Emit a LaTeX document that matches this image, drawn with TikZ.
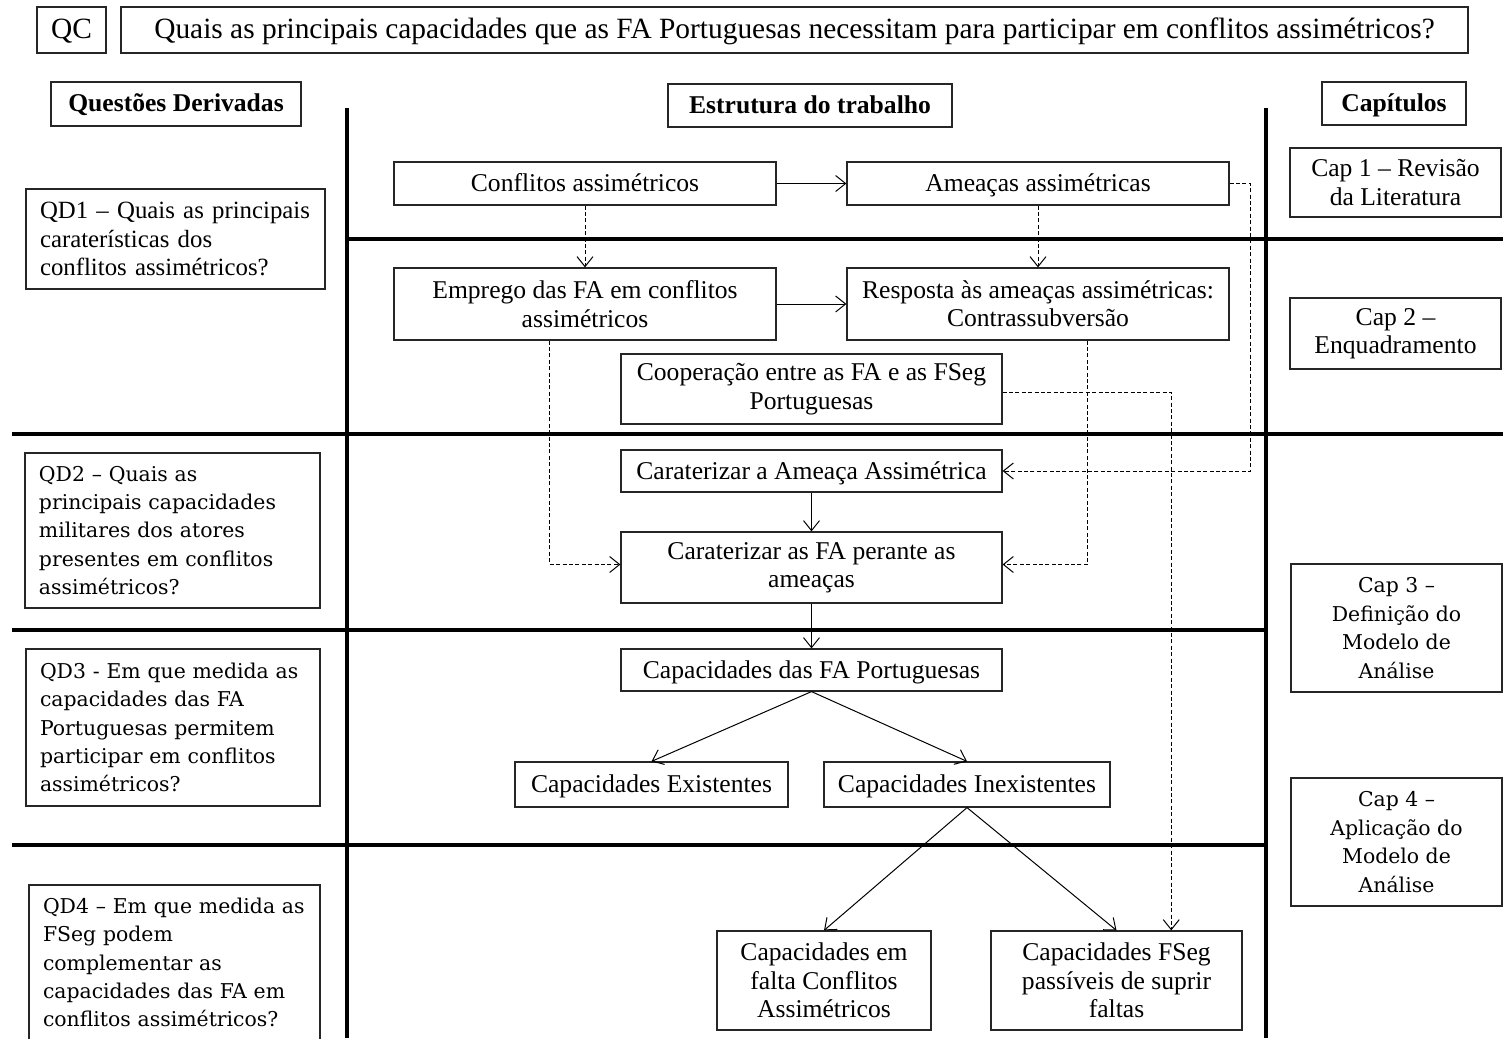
\documentclass[tikz,border=0pt]{standalone}
\usepackage{fontspec}
\setmainfont{Liberation Serif}
\newfontfamily\dvs{DejaVu Serif}
\usetikzlibrary{arrows.meta,calc}
\begin{document}
\begin{tikzpicture}[x=0.5pt,y=-0.5pt,
  bx/.style={draw=black!85,line width=0.6pt,rectangle,inner sep=0pt,align=center,
    font=\fontsize{12.8}{14.2}\selectfont},
  one/.style={text height=10pt,text depth=2pt},
  hd/.style={bx,one,font=\fontsize{12.8}{14.2}\selectfont\bfseries},
  big/.style={bx,font=\fontsize{14.7}{16}\selectfont,text height=11pt,text depth=2.5pt},
  qd/.style={draw=black!85,line width=0.6pt,rectangle,inner ysep=0pt,inner xsep=7pt,align=left,
    font=\dvs\fontsize{10.2}{14.2}\selectfont},
  qdt/.style={qd,font=\fontsize{12.4}{14.2}\selectfont},
  chapbox/.style={bx,font=\dvs\fontsize{10.2}{14.2}\selectfont},
  sep/.style={line width=2pt,black},
  arr/.style={line width=0.5pt,-{Straight Barb[length=5pt,width=8pt]}},
  darr/.style={arr,dash pattern=on 2pt off 1.2pt}]
\useasboundingbox (0,0) rectangle (1503,1038);
% separators
\draw[sep] (347,108) -- (347,1038);
\draw[sep] (1266,108) -- (1266,1038);
\draw[sep] (347,239) -- (1503,239);
\draw[sep] (12,434) -- (1503,434);
\draw[sep] (12,630) -- (1266,630);
\draw[sep] (12,845) -- (1266,845);
% header
\node[big,minimum width=34.5pt,minimum height=23pt] (qc) at (71.5,30) {QC};
\node[big,minimum width=673.5pt,minimum height=23pt] (qmain) at (794.5,30) {Quais as principais capacidades que as FA Portuguesas necessitam para participar em conflitos assimétricos?};
\node[hd,minimum width=125pt,minimum height=22pt] (hqd) at (176,104) {Questões Derivadas};
\node[hd,minimum width=142pt,minimum height=21.5pt] (hest) at (810,105.5) {Estrutura do trabalho};
\node[hd,minimum width=72pt,minimum height=21.5pt] (hcap) at (1394,103.5) {Capítulos};
% QD boxes
\node[qdt,text width=135.5pt,minimum height=50pt] (qd1) at (175.5,239) {QD1 – Quais as principais\\caraterísticas dos\\conflitos assimétricos?};
\node[qd,text width=133.5pt,minimum height=77.5pt] (qd2) at (172.5,530.5) {QD2 – Quais as\\principais capacidades\\militares dos atores\\presentes em conflitos\\assimétricos?};
\node[qd,text width=133pt,minimum height=78.5pt] (qd3) at (173,727.5) {QD3 - Em que medida as\\capacidades das FA\\Portuguesas permitem\\participar em conflitos\\assimétricos?};
\node[qd,text width=131.5pt,minimum height=77.5pt] (qd4) at (174.5,962.5) {QD4 – Em que medida as\\FSeg podem\\complementar as\\capacidades das FA em\\conflitos assimétricos?};
% chapter boxes
\node[bx,minimum width=105.5pt,minimum height=34.5pt] (cap1) at (1395.5,182.5) {Cap 1 – Revisão\\da Literatura};
\node[bx,minimum width=105.5pt,minimum height=35.5pt] (cap2) at (1395.5,333.5) {Cap 2 –\\Enquadramento};
\node[chapbox,minimum width=105.5pt,minimum height=64pt] (cap3) at (1396.5,628) {Cap 3 –\\Definição do\\Modelo de\\Análise};
\node[chapbox,minimum width=105.5pt,minimum height=64pt] (cap4) at (1396.5,842) {Cap 4 –\\Aplicação do\\Modelo de\\Análise};
% structure boxes
\node[bx,one,minimum width=191pt,minimum height=21.5pt] (conf) at (585,183.5) {Conflitos assimétricos};
\node[bx,one,minimum width=191pt,minimum height=21.5pt] (amea) at (1038,183.5) {Ameaças assimétricas};
\node[bx,minimum width=191pt,minimum height=36pt] (emp) at (585,304) {Emprego das FA em conflitos\\assimétricos};
\node[bx,minimum width=191pt,minimum height=36pt] (resp) at (1038,304) {Resposta às ameaças assimétricas:\\Contrassubversão};
\node[bx,minimum width=190.5pt,minimum height=35pt] (coop) at (811.5,389) {Cooperação entre as FA e as FSeg\\Portuguesas};
\node[bx,one,minimum width=190.5pt,minimum height=21pt] (carA) at (811.5,471) {Caraterizar a Ameaça Assimétrica};
\node[bx,minimum width=190.5pt,minimum height=35.5pt] (carF) at (811.5,567.5) {Caraterizar as FA perante as\\ameaças};
\node[bx,one,minimum width=190.5pt,minimum height=21pt] (capFA) at (811.5,670) {Capacidades das FA Portuguesas};
\node[bx,one,minimum width=136.5pt,minimum height=22.5pt] (capE) at (651.5,784.5) {Capacidades Existentes};
\node[bx,one,minimum width=143pt,minimum height=22.5pt] (capI) at (967,784.5) {Capacidades Inexistentes};
\node[bx,minimum width=107pt,minimum height=49.5pt] (capF) at (824,980.5) {Capacidades em\\falta Conflitos\\Assimétricos};
\node[bx,minimum width=125.5pt,minimum height=49.5pt] (capS) at (1116.5,980.5) {Capacidades FSeg\\passíveis de suprir\\faltas};
% connectors
\draw[arr] (conf.east) -- (amea.west);
\draw[arr] (emp.east) -- (resp.west);
\draw[darr] (conf.south) -- (emp.north);
\draw[darr] (amea.south) -- (resp.north);
\draw[darr] (amea.east) -- ++(21,0) |- (carA.east);
\coordinate (empB) at ($(emp.south west)!0.408!(emp.south east)$);
\coordinate (respB) at ($(resp.south west)!0.63!(resp.south east)$);
\coordinate (capSt) at ($(capS.north west)!0.717!(capS.north east)$);
\draw[darr] (empB) |- ([yshift=1.5pt]carF.west);
\draw[darr] (respB) |- ([yshift=1.5pt]carF.east);
\draw[darr] ([yshift=-1.5pt]coop.east) -| (capSt);
\draw[arr] (carA.south) -- (carF.north);
\draw[arr] (carF.south) -- (capFA.north);
\draw[arr] (capFA.south) -- (capE.north);
\draw[arr] (capFA.south) -- (capI.north);
\draw[arr] (capI.south) -- (capF.north);
\draw[arr] (capI.south) -- (capS.north);
\end{tikzpicture}
\end{document}
